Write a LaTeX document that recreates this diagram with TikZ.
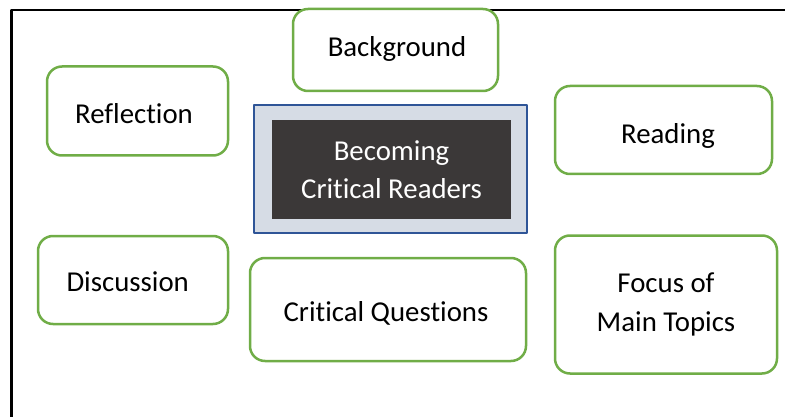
\documentclass[tikz,border=0pt]{standalone}
\usepackage{fontspec}
\setmainfont{Carlito}[Ligatures=NoCommon]
\definecolor{topicgreen}{HTML}{70AD47}
\definecolor{framegray}{HTML}{D6DCE5}
\definecolor{frameblue}{HTML}{2F5597}
\definecolor{darkbox}{HTML}{3B3838}
% text set off the centre of its box: dx, baseline below centre, text
\newcommand{\boxtext}[3]{\raisebox{-#2pt}[0pt][0pt]{\makebox[0pt]{\hspace*{#1pt}\hspace*{#1pt}#3}}}
\begin{document}
\begin{tikzpicture}[x=1pt,y=-1pt, font=\fontsize{28.8}{38.5}\selectfont, line join=round,
    topic/.style={draw=topicgreen, line width=2.5pt, rounded corners=15pt, fill=white, align=center, inner sep=0pt}]
        \useasboundingbox (0,0) rectangle (785,417);
        %\draw[color=gray!50,dashed] (0,0) grid[step=50] (785,417);
        \draw[line width=2.5pt] (11.5,420) |- (790,10);
        \node[topic, minimum width=205pt, minimum height=82pt] (background) at (395.5,50) {\boxtext{1.5}{6.7}{Background}};
        \node[topic, minimum width=181pt, minimum height=89pt] (reflection) at (137.5,111) {\boxtext{-3.5}{13}{Reflection}};
        \node[topic, minimum width=217pt, minimum height=88pt] (reading) at (663.5,130) {\boxtext{4.5}{13.3}{Reading}};
        \node[draw=frameblue, fill=framegray, line width=2pt, minimum width=273pt, minimum height=128pt] (centre) at (390,169) {};
        \node[fill=darkbox, text=white, align=center, minimum width=239pt, minimum height=99pt, inner sep=0pt] (title) at (391.5,169.5) {Becoming\\Critical Readers};
        \node[topic, minimum width=190pt, minimum height=88pt] (discussion) at (133,280) {\boxtext{-5.3}{11}{Discussion}};
        \node[topic, minimum width=276pt, minimum height=103pt] (questions) at (388,309.5) {\boxtext{-2}{12.2}{Critical Questions}};
        \node[topic, minimum width=222pt, minimum height=138pt] (focus) at (666,304.5) {Focus of\\Main Topics};
    \end{tikzpicture}
\end{document}
